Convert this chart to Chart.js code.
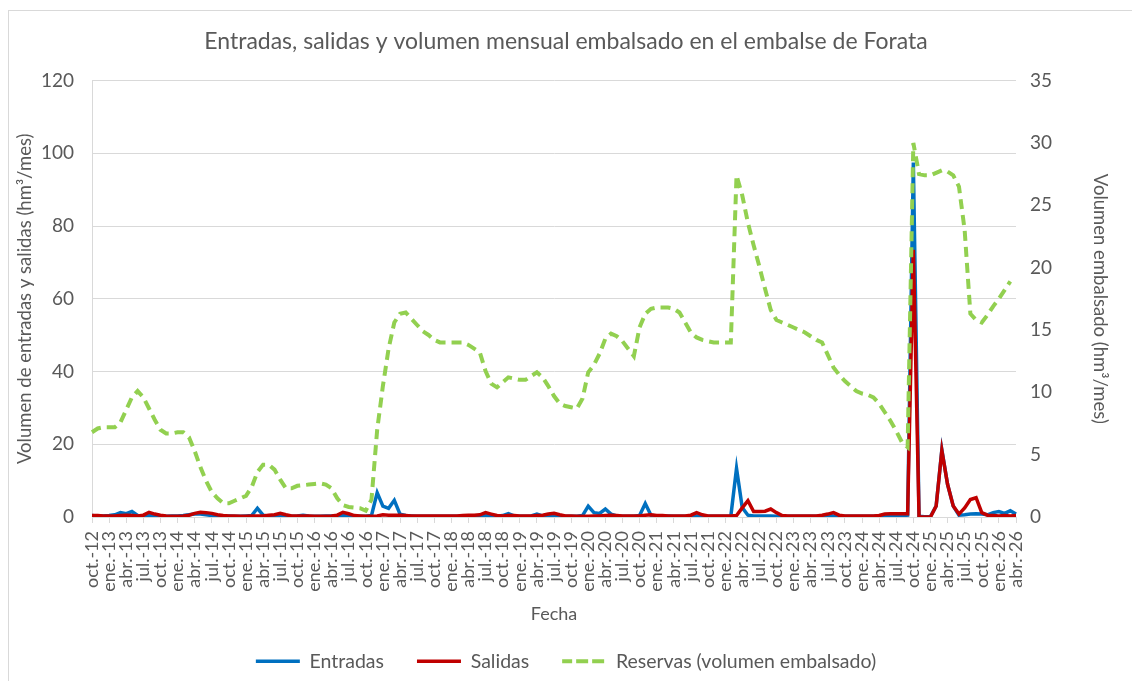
<!DOCTYPE html>
<html>
<head>
<meta charset="utf-8">
<script src="https://cdn.jsdelivr.net/npm/chart.js@4"></script>
<style>
  body { margin: 0; background: #fff; }
  canvas { display: block; }
</style>
</head>
<body>
<canvas id="myChart" width="1132" height="681"></canvas>
<script>
"use strict";

//--------------------DATA

// months shown on the x axis (oct-12 .. abr-26)
const monthNames = ["ene.", "feb.", "mar.", "abr.", "may.", "jun.", "jul.", "ago.", "sep.", "oct.", "nov.", "dic."];
const startYear = 2012;
const startMonth = 9; // oct
const monthCount = 163;

// hm3/mes (left axis)
const entradas = [
  0.4, 0.3, 0.3, 0.4, 0.6, 1.2, 0.9, 1.5, 0.4, 0.3,
  0.5, 0.3, 0.2, 0.2, 0.3, 0.3, 0.4, 0.6, 0.8, 0.8,
  0.6, 0.4, 0.2, 0.2, 0.3, 0.2, 0.2, 0.3, 0.4, 2.4,
  0.5, 0.2, 0.3, 0.5, 0.2, 0.2, 0.3, 0.5, 0.3, 0.2,
  0.2, 0.3, 0.3, 0.3, 0.4, 0.3, 0.2, 0.2, 0.2, 0.4,
  6.7, 3.0, 2.4, 4.6, 0.8, 0.4, 0.3, 0.2, 0.2, 0.2,
  0.2, 0.2, 0.2, 0.2, 0.2, 0.3, 0.3, 0.2, 0.3, 0.4,
  0.3, 0.2, 0.4, 0.9, 0.3, 0.2, 0.2, 0.3, 0.8, 0.3,
  0.2, 0.3, 0.3, 0.2, 0.2, 0.2, 0.4, 3.0, 1.2, 1.0,
  2.2, 0.8, 0.3, 0.2, 0.2, 0.2, 0.4, 3.7, 0.5, 0.3,
  0.3, 0.3, 0.2, 0.2, 0.2, 0.2, 0.3, 0.2, 0.2, 0.2,
  0.2, 0.2, 0.2, 13.4, 2.6, 0.5, 0.3, 0.3, 0.3, 0.3,
  0.2, 0.2, 0.2, 0.2, 0.2, 0.2, 0.2, 0.2, 0.3, 0.4,
  0.3, 0.2, 0.2, 0.2, 0.2, 0.2, 0.2, 0.2, 0.3, 0.3,
  0.3, 0.3, 0.4, 0.5, 97.5, 0.2, 0.1, 0.1, 3.0, 18.5,
  9.0, 3.0, 0.5, 0.6, 0.8, 0.9, 0.8, 0.6, 1.2, 1.5,
  1.0, 1.7, 0.8
];

const salidas = [
  0.4, 0.4, 0.3, 0.3, 0.3, 0.4, 0.5, 0.4, 0.3, 0.5,
  1.3, 0.8, 0.5, 0.3, 0.2, 0.2, 0.3, 0.5, 1.0, 1.3,
  1.2, 1.0, 0.6, 0.4, 0.3, 0.3, 0.2, 0.2, 0.3, 0.3,
  0.3, 0.5, 0.6, 1.0, 0.6, 0.3, 0.3, 0.3, 0.3, 0.2,
  0.2, 0.2, 0.3, 0.5, 1.3, 0.9, 0.4, 0.3, 0.2, 0.2,
  0.3, 0.6, 0.5, 0.5, 0.5, 0.4, 0.3, 0.3, 0.3, 0.3,
  0.3, 0.3, 0.3, 0.3, 0.3, 0.4, 0.5, 0.5, 0.6, 1.2,
  0.8, 0.4, 0.3, 0.4, 0.4, 0.3, 0.3, 0.3, 0.4, 0.5,
  0.8, 1.0, 0.6, 0.3, 0.3, 0.2, 0.2, 0.2, 0.3, 0.3,
  0.4, 0.5, 0.4, 0.3, 0.3, 0.3, 0.3, 0.5, 0.6, 0.4,
  0.4, 0.3, 0.3, 0.3, 0.3, 0.5, 1.2, 0.6, 0.3, 0.3,
  0.3, 0.3, 0.3, 0.4, 2.5, 4.5, 1.5, 1.5, 1.6, 2.2,
  1.2, 0.4, 0.3, 0.3, 0.3, 0.3, 0.3, 0.3, 0.5, 0.8,
  1.2, 0.5, 0.3, 0.3, 0.3, 0.3, 0.3, 0.3, 0.4, 0.8,
  0.9, 0.9, 0.9, 0.9, 73.5, 0.0, 0.0, 0.0, 3.0, 18.3,
  9.0, 3.0, 0.8, 2.5, 4.8, 5.3, 1.2, 0.5, 0.4, 0.3,
  0.4, 0.3, 0.4
];

// hm3 (right axis)
const reservas = [
  6.8, 7.1, 7.2, 7.2, 7.2, 7.6, 8.6, 9.6, 10.1, 9.6,
  8.7, 7.8, 7.0, 6.7, 6.7, 6.8, 6.8, 6.4, 5.3, 4.0,
  2.9, 2.0, 1.5, 1.1, 1.1, 1.3, 1.5, 1.7, 2.4, 3.6,
  4.2, 4.2, 3.8, 3.0, 2.3, 2.3, 2.5, 2.55, 2.6, 2.65,
  2.7, 2.6, 2.3, 1.5, 0.95, 0.8, 0.75, 0.7, 0.5, 1.4,
  7.0, 10.5, 13.5, 15.6, 16.3, 16.4, 15.9, 15.4, 14.9, 14.6,
  14.2, 14.0, 14.0, 14.0, 14.0, 14.0, 13.8, 13.5, 13.2, 11.7,
  10.7, 10.4, 10.8, 11.2, 11.1, 11.0, 11.0, 11.3, 11.6, 11.2,
  10.5, 9.7, 9.1, 8.9, 8.8, 8.7, 9.5, 11.6, 12.2, 13.1,
  14.3, 14.7, 14.5, 14.1, 13.5, 12.9, 15.2, 16.3, 16.7, 16.8,
  16.8, 16.8, 16.7, 16.4, 15.6, 14.8, 14.4, 14.2, 14.1, 14.0,
  14.0, 14.0, 14.0, 27.4, 25.8, 23.6, 21.8, 20.1, 18.3, 16.6,
  15.8, 15.6, 15.4, 15.2, 15.0, 14.8, 14.5, 14.2, 14.0, 13.0,
  12.0, 11.4, 10.9, 10.5, 10.1, 9.9, 9.8, 9.6, 9.1, 8.4,
  7.7, 6.9, 6.0, 5.6, 30.0, 27.5, 27.4, 27.4, 27.6, 27.8,
  27.7, 27.4, 26.5, 23.0, 16.3, 15.8, 15.6, 16.2, 16.9, 17.5,
  18.2, 18.9, null
];

const leftTicks = { min: 0, max: 120, step: 20 };
const rightTicks = { min: 0, max: 35, step: 5 };

//--------------------LABELS

let labels = [];
for (let i = 0; i < monthCount; i++) {
  let m = (startMonth + i) % 12;
  let y = startYear + Math.floor((startMonth + i) / 12);
  labels.push(monthNames[m] + "-" + String(y).slice(2));
}

//--------------------CHART

const gridColor = "#d9d9d9";
const textColor = "#595959";
Chart.defaults.font.family = "Lato, 'Liberation Sans', sans-serif";
Chart.defaults.color = textColor;

// white page + Excel-like chart border
const frame = {
  id: "frame",
  beforeDraw(chart) {
    const c = chart.ctx;
    c.save();
    c.fillStyle = "#fff";
    c.fillRect(0, 0, chart.width, chart.height);
    c.strokeStyle = gridColor;
    c.lineWidth = 1;
    c.strokeRect(8.5, 10.5, 1400, 1000);
    c.restore();
  },
};

const ctx = document.getElementById("myChart").getContext("2d");
const myChart = new Chart(ctx, {
  type: "line",
  data: {
    labels: labels,
    datasets: [
      {
        label: "Entradas     ",
        data: entradas,
        borderColor: "#0070C0",
        backgroundColor: "#0070C0",
        borderWidth: 3.5,
        pointRadius: 0,
        order: 2,
        yAxisID: "y",
      },
      {
        label: "Salidas     ",
        data: salidas,
        borderColor: "#C00000",
        backgroundColor: "#C00000",
        borderWidth: 3.5,
        pointRadius: 0,
        order: 1,
        yAxisID: "y",
      },
      {
        label: "Reservas (volumen embalsado)",
        data: reservas,
        borderColor: "#92D050",
        backgroundColor: "#92D050",
        borderWidth: 4,
        borderDash: [10, 6],
        pointRadius: 0,
        order: 0,
        yAxisID: "y1",
      },
    ],
  },
  options: {
    responsive: false,
    animation: false,
    devicePixelRatio: 1,
    layout: { padding: { left: 0, right: 0, top: 0, bottom: 0 } },
    plugins: {
      title: {
        display: true,
        text: "Entradas, salidas y volumen mensual embalsado en el embalse de Forata",
        color: textColor,
        font: { size: 23, weight: "normal" },
        padding: { top: 28, bottom: 25 },
      },
      legend: {
        position: "bottom",
        labels: {
          boxWidth: 44,
          boxHeight: 0,
          padding: 8,
          color: textColor,
          font: { size: 19.5 },
          sort: (a, b) => a.datasetIndex - b.datasetIndex,
        },
      },
      tooltip: { enabled: false },
    },
    scales: {
      x: {
        grid: { drawOnChartArea: false, tickLength: 6, color: gridColor },
        border: { display: true, color: gridColor },
        ticks: {
          autoSkip: false,
          minRotation: 90,
          maxRotation: 90,
          padding: 8,
          font: { size: 18 },
          callback: function (val, index) {
            return index % 3 === 0 ? labels[index] : null;
          },
        },
        title: {
          display: true,
          text: "Fecha",
          font: { size: 18 },
          padding: { top: 0, bottom: 19 },
        },
        afterFit(scale) {
          scale.height = 126.5;
        },
      },
      y: {
        position: "left",
        min: leftTicks.min,
        max: leftTicks.max,
        ticks: { stepSize: leftTicks.step, padding: 18, font: { size: 19 } },
        grid: { color: gridColor, drawTicks: false },
        border: { display: true, color: gridColor },
        title: {
          display: true,
          text: "Volumen de entradas y salidas (hm³/mes)",
          font: { size: 18.5 },
          padding: { top: 14, bottom: 0 },
        },
        afterFit(scale) {
          scale.width = 92;
        },
      },
      y1: {
        position: "right",
        min: rightTicks.min,
        max: rightTicks.max,
        ticks: { stepSize: rightTicks.step, padding: 14, font: { size: 19 } },
        grid: { drawOnChartArea: false, drawTicks: false },
        border: { display: false },
        title: {
          display: true,
          text: "Volumen embalsado (hm³/mes)",
          font: { size: 18.5 },
          padding: { top: 21, bottom: 0 },
        },
        afterFit(scale) {
          scale.width = 116;
        },
      },
    },
  },
  plugins: [frame],
});
</script>
</body>
</html>
